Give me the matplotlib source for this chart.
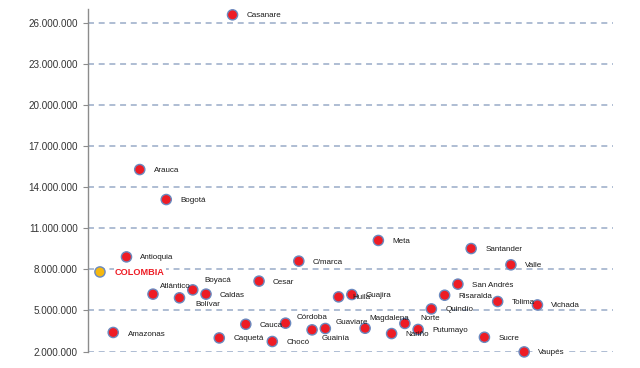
import matplotlib
matplotlib.use("Agg")
import matplotlib.pyplot as plt
from matplotlib.ticker import FuncFormatter, FixedLocator

plt.rcParams['font.family'] = ['Liberation Sans', 'DejaVu Sans']

# Data (values in pesos)
names = ["COLOMBIA", "Amazonas", "Antioquia", "Arauca", "Atlántico", "Bogotá", "Bolívar",
         "Boyacá", "Caldas", "Caquetá", "Casanare", "Cauca", "Cesar", "Chocó", "Córdoba",
         "C/marca", "Guainía", "Guaviare", "Huila", "Guajira", "Magdalena", "Meta", "Nariño",
         "Norte", "Putumayo", "Quindío", "Risaralda", "San Andrés", "Santander", "Sucre",
         "Tolima", "Valle", "Vaupés", "Vichada"]
values_m = [7.81, 3.39, 8.91, 15.29, 6.19, 13.10, 5.92,
            6.50, 6.19, 2.99, 26.59, 3.99, 7.14, 2.73, 4.07,
            8.60, 3.58, 3.68, 5.99, 6.16, 3.70, 10.11, 3.31,
            4.05, 3.61, 5.11, 6.11, 6.92, 9.52, 3.04,
            5.65, 8.33, 1.97, 5.40]
values = [v * 1_000_000 for v in values_m]
yticks = list(range(2_000_000, 26_000_001, 3_000_000))

# label offsets in pixels (dx, dy)
default_off = (14, -1)
special_off = {"COLOMBIA": (15, -1), "Amazonas": (15, -2), "Atlántico": (7, 8),
               "Bolívar": (16, -7), "Boyacá": (12, 9), "Córdoba": (11, 6),
               "Guainía": (10, -9), "Guaviare": (10, 6), "Magdalena": (4, 10),
               "Norte": (16, 5)}

fig = plt.figure(figsize=(6.4, 3.68), dpi=100)
ax = fig.add_axes([87.5 / 640, 16.5 / 368, (613 - 87.5) / 640, 0.9301])

x = list(range(len(names)))
ax.set_xlim(-0.94, 38.7)
ax.set_ylim(2_000_000, 27_000_000)

grid_color = "#A8B8D0"
for t in yticks:
    ax.axhline(t, color=grid_color, lw=1.3, dashes=(4.3 / 1.3, 3.4 / 1.3), zorder=1)

face = ["#F5B80F" if n == "COLOMBIA" else "#EE1C25" for n in names]
ax.scatter(x, values, s=54, c=face, edgecolors="#6A89BF", linewidths=1.0,
           zorder=3, clip_on=False)

for xi, v, n in zip(x, values, names):
    dx, dy = special_off.get(n, default_off)
    if n == "COLOMBIA":
        ax.annotate(n, (xi, v), xytext=(dx, dy), textcoords="offset pixels",
                    ha="left", va="center", fontsize=6.6, fontweight="bold",
                    color="#EE1C25", zorder=4,
                    bbox=dict(boxstyle="square,pad=0.1", fc="white", ec="none"))
    elif n == "Vaupés":
        ax.annotate(n, (xi, v), xytext=(dx, dy), textcoords="offset pixels",
                    ha="left", va="center", fontsize=5.8, color="#1A1A1A", zorder=4,
                    bbox=dict(boxstyle="square,pad=0.1", fc="white", ec="none"))
    else:
        ax.annotate(n, (xi, v), xytext=(dx, dy), textcoords="offset pixels",
                    ha="left", va="center", fontsize=5.8, color="#1A1A1A", zorder=4)

ax.yaxis.set_major_locator(FixedLocator(yticks))
ax.yaxis.set_major_formatter(FuncFormatter(lambda v, p: f"{int(round(v)):,}".replace(",", ".")))
ax.set_xticks([])
for s in ["top", "right", "bottom"]:
    ax.spines[s].set_visible(False)
ax.spines["left"].set_color("#8C8C8C")
ax.spines["left"].set_linewidth(1.0)
ax.tick_params(axis="y", length=3.6, width=0.8, color="#8C8C8C", pad=3.5,
               labelsize=7.1, labelcolor="#333333")

fig.savefig("out.png", dpi=100)
